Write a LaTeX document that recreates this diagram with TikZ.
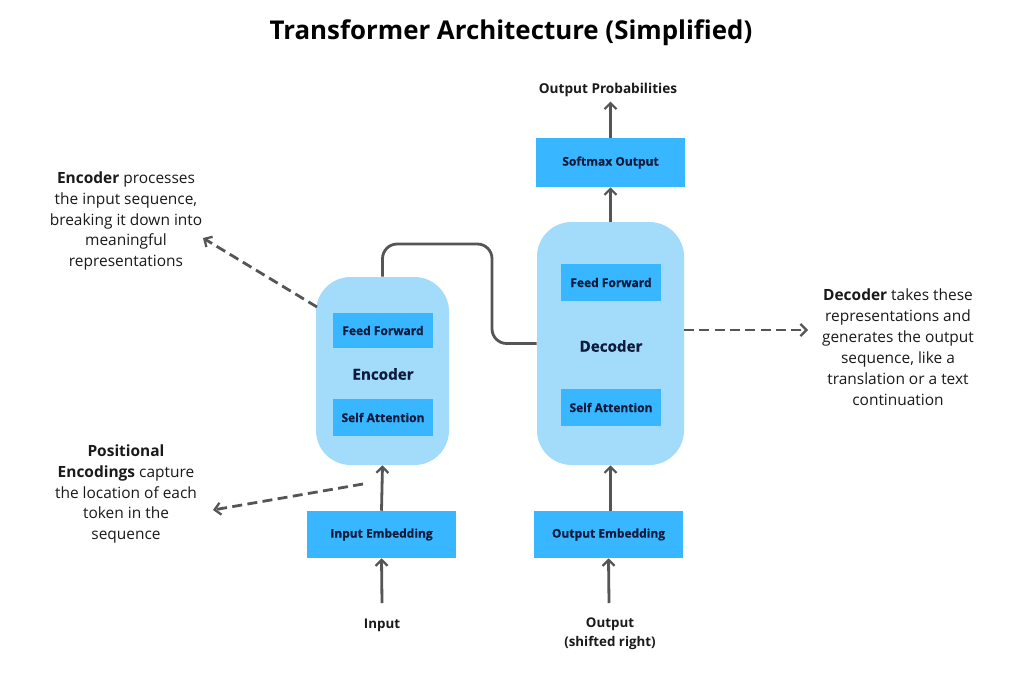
\documentclass[tikz,border=0pt]{standalone}
\usepackage{fontspec}
\setmainfont{Open Sans}
\newfontfamily\heavyfont{Open Sans}[BoldFeatures={FakeBold=0.7}]
\usetikzlibrary{arrows.meta}
\definecolor{capsulecol}{HTML}{A3DBFA}
\definecolor{boxblue}{HTML}{38B6FF}
\definecolor{navy}{HTML}{0F1B3D}
\definecolor{linegray}{HTML}{555555}
\definecolor{txt}{HTML}{1A1A1A}
\begin{document}
\begin{tikzpicture}[x=0.75pt,y=-0.75pt,
  capsule/.style={fill=capsulecol, rounded corners=26pt, inner sep=0pt},
  block/.style={fill=boxblue, text=navy, inner sep=0pt,
    font=\heavyfont\bfseries\fontsize{9}{10}\selectfont},
  caplbl/.style={text=navy, font=\heavyfont\bfseries\fontsize{11.4}{13}\selectfont},
  conn/.style={draw=linegray, line width=2.1pt},
  arr/.style={conn, -{Straight Barb[length=4.5pt,width=9pt,line width=1.7pt]}},
  dasharr/.style={conn, dash pattern=on 7.5pt off 4pt, -{Straight Barb[length=4.5pt,width=9pt,line width=1.7pt]}},
  note/.style={align=center, text=txt, font=\fontsize{11.6}{15.7}\selectfont},
  lbl/.style={align=center, text=txt, font=\bfseries\fontsize{10}{14.5}\selectfont}
]
\fill[white] (0,0) rectangle (1024,672);

\node[text=black, font=\bfseries\fontsize{19.4}{24}\selectfont] (title) at (511,33) {Transformer Architecture (Simplified)};

% encoder
\node[capsule, minimum width=99.75pt, minimum height=141pt] (enc) at (382.5,371) {};
\node[block, minimum width=75pt, minimum height=26.25pt] (encff) at (383,330.5) {Feed Forward};
\node[block, minimum width=75pt, minimum height=27.75pt] (encsa) at (383,417.5) {Self Attention};
\node[caplbl] (enclbl) at (383,374) {Encoder};

% decoder
\node[capsule, minimum width=110.25pt, minimum height=182.25pt] (dec) at (610.5,343.5) {};
\node[block, minimum width=75pt, minimum height=27.75pt] (decff) at (611,282.5) {Feed Forward};
\node[block, minimum width=75pt, minimum height=27.75pt] (decsa) at (611,407.5) {Self Attention};
\node[caplbl] (declbl) at (611,346) {Decoder};

% softmax and output
\node[block, minimum width=111.75pt, minimum height=36.75pt] (soft) at (610.5,162.5) {Softmax Output};
\node[lbl, font=\bfseries\fontsize{10.2}{12}\selectfont] (outprob) at (608,90) {Output Probabilities};

% embeddings
\node[block, minimum width=111.75pt, minimum height=35.25pt] (inemb) at (381.5,534.5) {Input Embedding};
\node[block, minimum width=111.75pt, minimum height=35.25pt] (outemb) at (608.5,534.5) {Output Embedding};

\node[lbl] (inlbl) at (382,625) {Input};
\node[lbl] (outlbl) at (610,634) {Output\\(shifted right)};

% notes
\node[note] (encnote) at (126,221) {\textbf{Encoder} processes\\the input sequence,\\breaking it down into\\meaningful\\representations};
\node[note] (posnote) at (126,494) {\textbf{Positional}\\\textbf{Encodings} capture\\the location of each\\token in the\\sequence};
\node[note] (decnote) at (898,347.5) {\textbf{Decoder} takes these\\representations and\\generates the output\\sequence, like a\\translation or a text\\continuation};

% coordinates
\coordinate (inTail) at (382,603);
\coordinate (outTail) at (609,603);
\coordinate (bend) at (492,244);
\coordinate (encEdge) at (317,307);
\coordinate (encTip) at (203,238);
\coordinate (posTail) at (363,484);
\coordinate (posTip) at (213,510);
\coordinate (decEdge) at (684,330);
\coordinate (decTip) at (808,330);

% connectors
\draw[arr] (inTail) -- (inemb.south);
\draw[arr] (outTail) -- (outemb.south);
\draw[arr] (inemb.north) -- (enc.south);
\draw[arr] (outemb.north -| dec.south) -- (dec.south);
\draw[arr] (dec.north) -- (soft.south);
\draw[arr] (soft.north) -- (soft.north |- outprob.south);
\draw[conn, rounded corners=11pt] (enc.north) |- (bend) |- (dec.west);

\draw[dasharr] (encEdge) -- (encTip);
\draw[dasharr] (posTail) -- (posTip);
\draw[dasharr] (decEdge) -- (decTip);
\end{tikzpicture}
\end{document}
